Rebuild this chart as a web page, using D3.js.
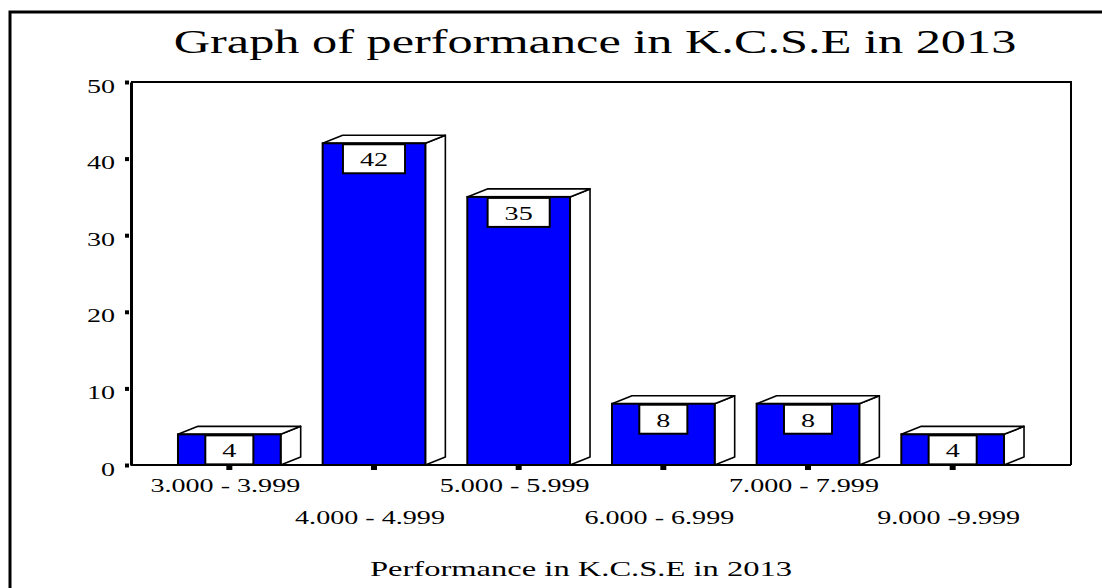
<!DOCTYPE html>
<html>
<head>
<meta charset="utf-8">
<script src="https://cdn.jsdelivr.net/npm/d3@7"></script>
<style>
  body { margin: 0; background: #fff; }
  svg { display: block; }
  text { font-family: "Liberation Serif", "Times New Roman", serif; fill: #000; }
</style>
</head>
<body>
<svg width="1102" height="588"></svg>
<script>
// data
const categories = ['3.000 - 3.999', '4.000 - 4.999', '5.000 - 5.999', '6.000 - 6.999', '7.000 - 7.999', '9.000 -9.999'];
const counts = [4, 42, 35, 8, 8, 4];
const yTicks = [0, 10, 20, 30, 40, 50];

const data = categories.map((c, i) => ({ cat: c, value: counts[i] }));

const svg = d3.select('svg');
const SX = 1.48;          // text in the original is stretched sideways
const depth = { dx: 20, dy: 8 };

const plot = { left: 131, right: 1071, top: 82, bottom: 465 };

const xScale = d3.scaleBand()
    .domain(categories)
    .range([157, 1025])
    .paddingInner(0.29)
    .paddingOuter(0.145);

const yScale = d3.scaleLinear()
    .domain([0, 50])
    .range([plot.bottom, plot.top]);

// outer border (runs off the picture right and bottom)
svg.append('rect')
    .attr('x', 10).attr('y', 12)
    .attr('width', 1110).attr('height', 600)
    .attr('fill', 'none')
    .attr('stroke', '#000')
    .attr('stroke-width', 3);

// title
svg.append('text')
    .attr('transform', `translate(595, 53) scale(${SX}, 1)`)
    .attr('text-anchor', 'middle')
    .style('font-size', '34px')
    .text('Graph of performance in K.C.S.E in 2013');

// frame: top + right
svg.append('path')
    .attr('d', `M${plot.left},${plot.top}H${plot.right}V${plot.bottom}`)
    .attr('fill', 'none')
    .attr('stroke', '#000')
    .attr('stroke-width', 2);

// bars
const bars = svg.append('g').selectAll('g')
    .data(data)
    .enter()
    .append('g');

const x0 = d => xScale(d.cat);
const x1 = d => xScale(d.cat) + xScale.bandwidth();

bars.append('path')
    .attr('class', 'side')
    .attr('d', d => {
        const yt = yScale(d.value), yb = yScale(0);
        return `M${x1(d)},${yt}L${x1(d) + depth.dx},${yt - depth.dy}L${x1(d) + depth.dx},${yb - depth.dy}L${x1(d)},${yb}Z`;
    })
    .attr('fill', '#fff')
    .attr('stroke', '#000')
    .attr('stroke-width', 1.6)
    .attr('stroke-linejoin', 'round');

bars.append('path')
    .attr('class', 'top')
    .attr('d', d => {
        const yt = yScale(d.value);
        return `M${x0(d)},${yt}L${x0(d) + depth.dx},${yt - depth.dy}L${x1(d) + depth.dx},${yt - depth.dy}L${x1(d)},${yt}Z`;
    })
    .attr('fill', '#fff')
    .attr('stroke', '#000')
    .attr('stroke-width', 1.6)
    .attr('stroke-linejoin', 'round');

bars.append('rect')
    .attr('class', 'bar')
    .attr('x', d => x0(d))
    .attr('y', d => yScale(d.value))
    .attr('width', xScale.bandwidth())
    .attr('height', d => yScale(0) - yScale(d.value))
    .attr('fill', '#0000ff')
    .attr('stroke', '#000')
    .attr('stroke-width', 2);

// value boxes
const boxes = bars.append('g')
    .attr('transform', d => `translate(${x0(d) + xScale.bandwidth() / 2}, ${yScale(d.value) + 1})`);

const boxRect = boxes.append('rect')
    .attr('y', 0)
    .attr('height', 29)
    .attr('fill', '#fff')
    .attr('stroke', '#000')
    .attr('stroke-width', 2);

const boxText = boxes.append('text')
    .attr('transform', `translate(0, 22) scale(${SX}, 1)`)
    .attr('text-anchor', 'middle')
    .style('font-size', '19px')
    .text(d => d.value);

boxText.each(function(d) {
    const w = this.getComputedTextLength() * SX + 34;
    d3.select(this.parentNode).select('rect')
        .attr('x', -w / 2)
        .attr('width', w);
});

// y axis
const yAxis = svg.append('g')
    .attr('transform', `translate(${plot.left}, 0)`)
    .call(d3.axisLeft(yScale).tickValues(yTicks).tickSize(0).tickPadding(0));

yAxis.select('.domain')
    .attr('stroke', '#000')
    .attr('stroke-width', 3);

yAxis.selectAll('.tick line')
    .attr('x1', -2).attr('x2', -6)
    .attr('stroke', '#000')
    .attr('stroke-width', 4);

yAxis.selectAll('.tick text')
    .attr('x', null).attr('dy', null)
    .attr('transform', `translate(-16, 10) scale(${SX}, 1)`)
    .attr('text-anchor', 'end')
    .style('font-size', '19px')
    .style('font-family', '"Liberation Serif", serif')
    .attr('fill', '#000');

// x axis
const xAxis = svg.append('g')
    .attr('transform', `translate(0, ${plot.bottom})`)
    .call(d3.axisBottom(xScale).tickSize(0).tickPadding(0));

xAxis.select('.domain')
    .attr('d', `M${plot.left},0H${plot.right}`)
    .attr('stroke', '#000')
    .attr('stroke-width', 2);

xAxis.selectAll('.tick line')
    .attr('y1', 1).attr('y2', 5)
    .attr('stroke', '#000')
    .attr('stroke-width', 6);

xAxis.selectAll('.tick text')
    .attr('y', null).attr('dy', null)
    .attr('transform', (d, i) => `translate(-4, ${i % 2 === 0 ? 27 : 59}) scale(${SX}, 1)`)
    .attr('text-anchor', 'middle')
    .style('font-size', '19px')
    .style('font-family', '"Liberation Serif", serif')
    .attr('fill', '#000');

// axis title
svg.append('text')
    .attr('transform', `translate(581, 576) scale(${SX}, 1)`)
    .attr('text-anchor', 'middle')
    .style('font-size', '22px')
    .text('Performance in K.C.S.E in 2013');
</script>
</body>
</html>
